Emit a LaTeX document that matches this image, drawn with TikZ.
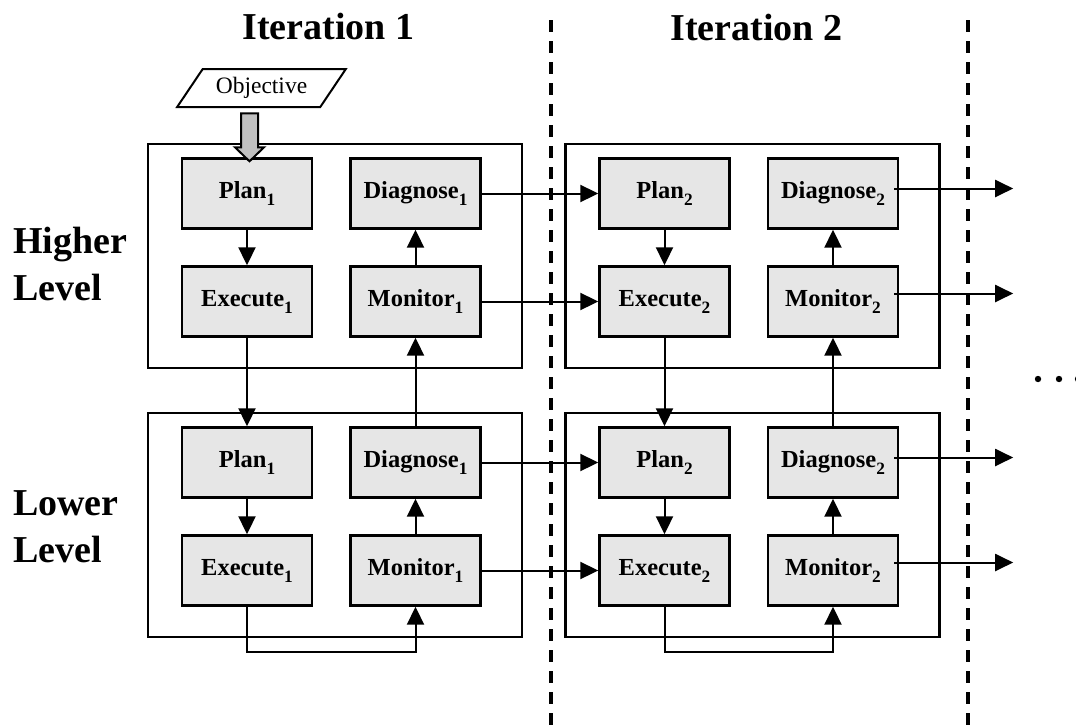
\documentclass[tikz,border=0pt]{standalone}
\usepackage{fontspec}
\setmainfont{Liberation Serif}
\usetikzlibrary{arrows.meta,calc,shapes.geometric}

\definecolor{stagefill}{HTML}{E6E6E6}
\definecolor{goalfill}{HTML}{C0C0C0}
\newcommand{\stepno}[1]{\raisebox{-7pt}{\fontsize{17.3}{18}\selectfont #1}}

\begin{document}
\begin{tikzpicture}[
        x=1pt, y=-1pt,
        stage/.style={draw, line width=2.4pt, fill=stagefill, minimum width=130pt, minimum height=70pt,
            inner sep=0pt, font=\bfseries\fontsize{24.5}{29}\selectfont},
        levelbox/.style={draw, line width=2.2pt, minimum width=374pt, minimum height=224pt, inner sep=0pt},
        title/.style={inner sep=0pt, font=\bfseries\fontsize{38}{47}\selectfont},
        goal/.style={draw, line width=2pt, trapezium, trapezium left angle=47, trapezium right angle=133,
            trapezium stretches=true, minimum width=169pt, minimum height=38pt, inner sep=0pt,
            font=\fontsize{23.5}{28}\selectfont},
        flow/.style={-{Triangle[length=18pt,width=17pt]}, line width=2pt},
        goalflow/.style={draw, line width=2pt, fill=goalfill, line join=miter},
        divider/.style={line width=4pt, dash pattern=on 12pt off 9pt}
        ]
        \clip (0,0) rectangle (1076,726);

        % --- Grid (tune if needed) ---
        \def\dx{417.5}  % iteration spacing
        \def\dy{269}    % level spacing

        % Iteration dividers
        \draw[divider] (551,20) -- (551,726);
        \draw[divider] (968,20) -- (968,726);

        % Headings
        \node[title, anchor=base] (iter1) at (328.5,39) {Iteration 1};
        \node[title, anchor=base] (iter2) at (756.5,40) {Iteration 2};
        \node[title, anchor=west, align=left] (higher) at (13,264) {Higher\\Level};
        \node[title, anchor=west, align=left] (lower) at (13,526.5) {Lower\\Level};

        % Level boxes
        \node[levelbox] (hi1) at (335,256) {};
        \node[levelbox] (lo1) at (335,256+\dy) {};
        \node[levelbox] (hi2) at (335+\dx,256) {};
        \node[levelbox] (lo2) at (335+\dx,256+\dy) {};

        % Iteration 1, higher level
        \node[stage] (plan1h) at (247,193.5)   {Plan\stepno{1}};
        \node[stage] (exec1h) at (247,301.5)   {Execute\stepno{1}};
        \node[stage] (diag1h) at (415.5,193.5) {Diagnose\stepno{1}};
        \node[stage] (mon1h)  at (415.5,301.5) {Monitor\stepno{1}};

        % Iteration 1, lower level
        \node[stage] (plan1l) at (247,193.5+\dy)   {Plan\stepno{1}};
        \node[stage] (exec1l) at (247,301.5+\dy)   {Execute\stepno{1}};
        \node[stage] (diag1l) at (415.5,193.5+\dy) {Diagnose\stepno{1}};
        \node[stage] (mon1l)  at (415.5,301.5+\dy) {Monitor\stepno{1}};

        % Iteration 2, higher level
        \node[stage] (plan2h) at (247+\dx,193.5)   {Plan\stepno{2}};
        \node[stage] (exec2h) at (247+\dx,301.5)   {Execute\stepno{2}};
        \node[stage] (diag2h) at (415.5+\dx,193.5) {Diagnose\stepno{2}};
        \node[stage] (mon2h)  at (415.5+\dx,301.5) {Monitor\stepno{2}};

        % Iteration 2, lower level
        \node[stage] (plan2l) at (247+\dx,193.5+\dy)   {Plan\stepno{2}};
        \node[stage] (exec2l) at (247+\dx,301.5+\dy)   {Execute\stepno{2}};
        \node[stage] (diag2l) at (415.5+\dx,193.5+\dy) {Diagnose\stepno{2}};
        \node[stage] (mon2l)  at (415.5+\dx,301.5+\dy) {Monitor\stepno{2}};

        % Objective input
        \node[goal] (objective) at (261.5,88) {Objective};
        \coordinate (objtip) at ($(plan1h.north)+(2.5,4)$);
        \draw[goalflow] (objtip) -- ++(-14.5,-14) -- ++(6,0) -- ++(0,-34) -- ++(17,0)
            -- ++(0,34) -- ++(6,0) -- cycle;

        % Arrows inside the boxes
        \draw[flow] (plan1h) -- (exec1h);
        \draw[flow] (mon1h) -- (diag1h);
        \draw[flow] (plan1l) -- (exec1l);
        \draw[flow] (mon1l) -- (diag1l);
        \draw[flow] (plan2h) -- (exec2h);
        \draw[flow] (mon2h) -- (diag2h);
        \draw[flow] (plan2l) -- (exec2l);
        \draw[flow] (mon2l) -- (diag2l);

        % Between levels
        \draw[flow] (exec1h) -- (plan1l);
        \draw[flow] (diag1l) -- (mon1h);
        \draw[flow] (exec2h) -- (plan2l);
        \draw[flow] (diag2l) -- (mon2h);
        \draw[flow] (exec1l.south) -- ++(0,45) -| (mon1l.south);
        \draw[flow] (exec2l.south) -- ++(0,45) -| (mon2l.south);

        % Between iterations
        \draw[flow] (diag1h) -- (plan2h);
        \draw[flow] (mon1h) -- (exec2h);
        \draw[flow] (diag1l) -- (plan2l);
        \draw[flow] (mon1l) -- (exec2l);

        % On to the next iteration
        \draw[flow] ([xshift=-5pt,yshift=5pt]diag2h.east) -- ++(119,0);
        \draw[flow] ([xshift=-5pt,yshift=8pt]mon2h.east) -- ++(119,0);
        \draw[flow] ([xshift=-5pt,yshift=5pt]diag2l.east) -- ++(119,0);
        \draw[flow] ([xshift=-5pt,yshift=8pt]mon2l.east) -- ++(119,0);
        \fill (1038,379) circle (3.2) (1059,379) circle (3.2) (1078,379) circle (3.2);

    \end{tikzpicture}
\end{document}
